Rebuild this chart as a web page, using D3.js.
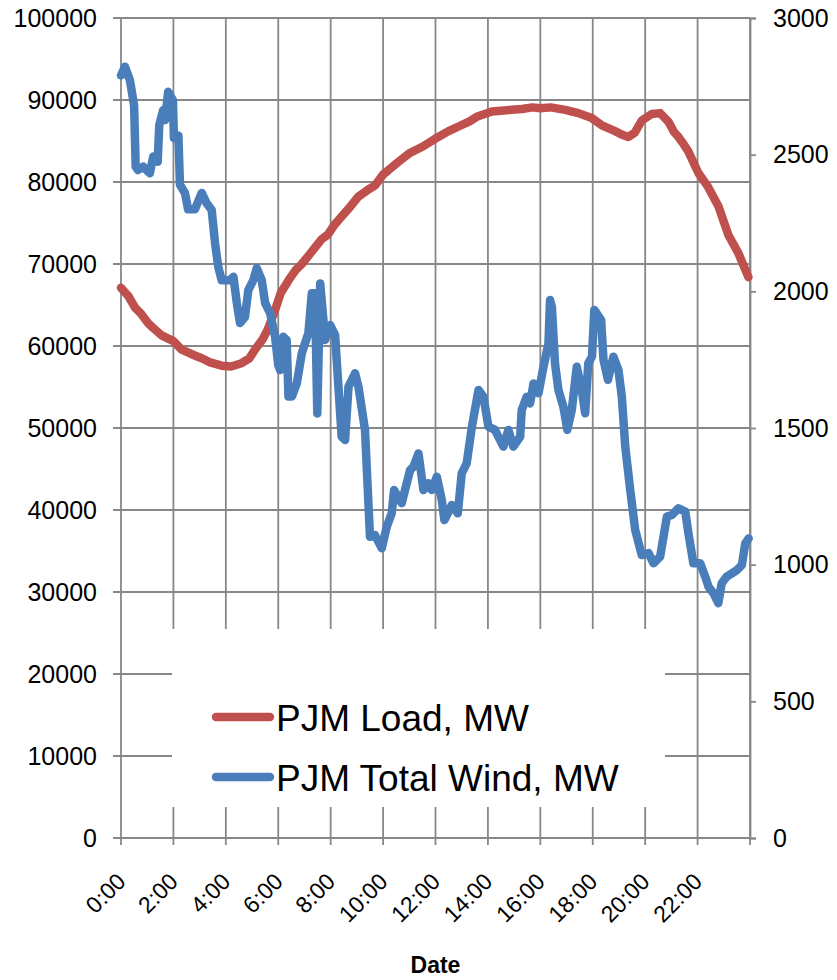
<!DOCTYPE html>
<html>
<head>
<meta charset="utf-8">
<script src="https://cdn.jsdelivr.net/npm/d3@7"></script>
<style>
  html, body { margin: 0; padding: 0; background: #fff; }
  svg { display: block; font-family: "Liberation Sans", Arial, sans-serif; }
</style>
</head>
<body>
<svg id="chart" width="837" height="980"></svg>
<script>
// ---- data (hours of day, MW) ----
const loadHours = [0,0.3,0.53,0.75,1.03,1.3,1.55,2.0,2.3,2.7,3.08,3.4,3.84,4.2,4.6,4.9,5.1,5.4,5.6,5.88,6.1,6.39,6.65,6.9,7.15,7.4,7.65,7.9,8.15,8.42,8.75,9.05,9.4,9.7,10.0,10.3,10.6,11.0,11.5,12.0,12.5,12.9,13.3,13.6,14.15,14.5,14.9,15.3,15.7,16.0,16.4,16.95,17.45,17.96,18.35,18.85,19.1,19.36,19.6,19.87,20.25,20.57,20.9,21.1,21.27,21.45,21.65,22.03,22.4,22.8,23.18,23.56,23.94];
const loadMW = [67100,66000,64700,64000,62800,62000,61300,60600,59600,59000,58500,58000,57600,57500,57900,58500,59500,60800,62000,64400,66500,68000,69200,70000,71000,72000,73000,73600,74800,75800,77000,78200,79000,79600,80900,81700,82500,83500,84300,85300,86200,86800,87400,88000,88600,88700,88800,88900,89100,89000,89100,88800,88400,87800,86900,86200,85800,85500,86000,87500,88300,88400,87300,86100,85500,84700,83700,81100,79400,77000,73500,71300,68400];

const windHours = [0,0.15,0.34,0.5,0.56,0.65,0.85,1.1,1.23,1.4,1.46,1.61,1.68,1.8,1.98,2.02,2.19,2.25,2.44,2.56,2.82,3.08,3.27,3.46,3.59,3.71,3.84,4.16,4.29,4.42,4.54,4.73,4.86,5.05,5.18,5.37,5.5,5.69,5.88,6.0,6.07,6.19,6.32,6.39,6.52,6.71,6.9,7.15,7.28,7.4,7.49,7.6,7.79,7.98,8.17,8.23,8.42,8.55,8.68,8.93,9.06,9.31,9.5,9.69,9.95,10.14,10.33,10.42,10.71,11.03,11.16,11.35,11.54,11.73,11.86,12.05,12.24,12.34,12.62,12.85,13.0,13.19,13.39,13.64,13.83,14.02,14.27,14.4,14.59,14.78,14.97,15.23,15.29,15.48,15.61,15.74,15.93,16.12,16.31,16.37,16.44,16.56,16.69,16.88,17.03,17.2,17.39,17.58,17.71,17.83,17.97,18.06,18.32,18.41,18.58,18.79,18.98,19.11,19.24,19.43,19.62,19.87,20.13,20.32,20.57,20.7,20.83,21.02,21.27,21.53,21.65,21.84,22.1,22.29,22.42,22.61,22.79,22.92,23.11,23.31,23.5,23.69,23.82,23.95];
const windMW = [2790,2822,2772,2680,2456,2444,2456,2432,2493,2474,2608,2663,2627,2730,2700,2560,2570,2390,2360,2300,2300,2360,2322,2298,2175,2090,2041,2041,2053,1957,1884,1906,2005,2041,2085,2041,1957,1920,1834,1730,1712,1834,1822,1615,1615,1664,1774,1847,1993,1993,1553,2029,1822,1877,1840,1749,1468,1456,1651,1700,1651,1493,1102,1108,1060,1139,1188,1273,1225,1346,1358,1407,1273,1298,1273,1322,1236,1163,1218,1188,1334,1371,1505,1639,1614,1505,1493,1468,1432,1493,1432,1468,1566,1614,1590,1663,1627,1724,1810,1968,1944,1737,1639,1578,1493,1566,1724,1639,1554,1737,1761,1932,1895,1749,1676,1761,1712,1614,1432,1273,1127,1035,1042,1005,1029,1102,1176,1182,1206,1194,1115,1005,1005,956,919,895,859,932,956,968,980,999,1078,1096];

const xTickHours = [0,2,4,6,8,10,12,14,16,18,20,22];
const xTickLabels = ["0:00","2:00","4:00","6:00","8:00","10:00","12:00","14:00","16:00","18:00","20:00","22:00"];
const leftTicks = [0,10000,20000,30000,40000,50000,60000,70000,80000,90000,100000];
const rightTicks = [0,500,1000,1500,2000,2500,3000];
const seriesNames = ["PJM Load, MW","PJM Total Wind, MW"];
const seriesColors = ["#C0504D","#4A7EBB"];
const xTitle = "Date";

// ---- layout ----
const L = 121, R = 750, T = 18, B = 838;
const grid = "#878787";
const svg = d3.select("#chart");

const x = d3.scaleLinear().domain([0,24]).range([L,R]);
const yL = d3.scaleLinear().domain([0,100000]).range([B,T]);
const yR = d3.scaleLinear().domain([0,3000]).range([B,T]);

// horizontal gridlines (with outside tick on left)
svg.append("g").selectAll("line").data(leftTicks).join("line")
  .attr("x1", L-8).attr("x2", R)
  .attr("y1", d=>yL(d)).attr("y2", d=>yL(d))
  .attr("stroke", grid).attr("stroke-width", 1.8);

// vertical gridlines every 2h incl. right edge, with tick below
svg.append("g").selectAll("line").data(d3.range(0,25,2)).join("line")
  .attr("x1", d=>x(d)).attr("x2", d=>x(d))
  .attr("y1", T).attr("y2", B+7)
  .attr("stroke", grid).attr("stroke-width", 1.8);

// right axis
const rAxis = svg.append("g").attr("transform", `translate(${R},0)`)
  .call(d3.axisRight(yR).tickValues(rightTicks).tickSize(6).tickPadding(17).tickFormat(d3.format("d")));
rAxis.select(".domain").attr("stroke", grid).attr("stroke-width", 1.8);
rAxis.selectAll(".tick line").attr("stroke", grid).attr("stroke-width", 1.8);
rAxis.selectAll("text").attr("font-size", 25).attr("fill", "#000")
  .attr("font-family", "Liberation Sans, Arial, sans-serif");

// left axis labels
const lAxis = svg.append("g").attr("transform", `translate(${L},0)`)
  .call(d3.axisLeft(yL).tickValues(leftTicks).tickSize(8).tickPadding(16).tickFormat(d3.format("d")));
lAxis.select(".domain").remove();
lAxis.selectAll(".tick line").remove();
lAxis.selectAll("text").attr("font-size", 25).attr("fill", "#000")
  .attr("font-family", "Liberation Sans, Arial, sans-serif");

// bottom labels, rotated
svg.append("g").selectAll("text").data(xTickHours).join("text")
  .attr("transform", d => `translate(${x(d)+6},${883}) rotate(-45)`)
  .attr("text-anchor", "end")
  .attr("font-size", 23)
  .text((d,i) => xTickLabels[i]);

svg.append("text").attr("x", (L+R)/2).attr("y", 973)
  .attr("text-anchor", "middle").attr("font-weight", "bold").attr("font-size", 23)
  .text(xTitle);

// legend box
svg.append("rect").attr("x", 172).attr("y", 629).attr("width", 493).attr("height", 178).attr("fill", "#fff");

// series
const lineL = d3.line().x((d,i)=>x(loadHours[i])).y(d=>yL(d));
const lineR = d3.line().x((d,i)=>x(windHours[i])).y(d=>yR(d));

svg.append("path").datum(loadMW).attr("d", lineL)
  .attr("fill","none").attr("stroke", seriesColors[0]).attr("stroke-width", 8.5)
  .attr("stroke-linejoin","round").attr("stroke-linecap","round");
svg.append("path").datum(windMW).attr("d", lineR)
  .attr("fill","none").attr("stroke", seriesColors[1]).attr("stroke-width", 8.5)
  .attr("stroke-linejoin","round").attr("stroke-linecap","round");

// legend entries
const leg = svg.append("g");
[717, 777].forEach((yy, i) => {
  leg.append("line").attr("x1", 216).attr("x2", 270).attr("y1", yy).attr("y2", yy)
    .attr("stroke", seriesColors[i]).attr("stroke-width", 8.5).attr("stroke-linecap", "round");
  leg.append("text").attr("x", 276).attr("y", yy + 14).attr("font-size", 37)
    .text(seriesNames[i]);
});
</script>
</body>
</html>
